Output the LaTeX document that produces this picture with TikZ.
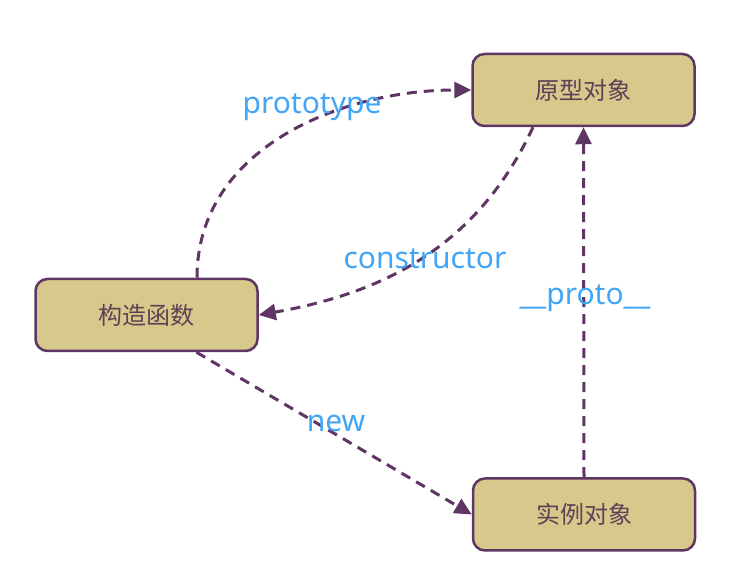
\documentclass[tikz,border=0pt]{standalone}
\usepackage{fontspec}
\setmainfont{Noto Sans}
\newfontfamily\cjk{Noto Sans CJK SC}
\usetikzlibrary{arrows.meta}
\definecolor{boxfill}{HTML}{D6C98B}
\definecolor{boxline}{HTML}{5E3563}
\definecolor{boxtext}{HTML}{5B4257}
\definecolor{lbltext}{HTML}{42A5F5}
\tikzstyle{object} = [
  draw=boxline,
  fill=boxfill,
  line width=2.5pt,
  rounded corners=12pt,
  minimum width=222pt,
  minimum height=72pt,
  text=boxtext,
  font=\cjk\fontsize{24}{28}\selectfont,
]
\tikzstyle{link} = [
  draw=boxline,
  line width=3pt,
  dash pattern=on 10pt off 7pt,
  -{Triangle[length=17pt,width=16pt]},
]
\tikzstyle{linklabel} = [
  text=lbltext,
  font=\fontsize{30}{34}\selectfont,
]

\begin{document}
\begin{tikzpicture}[
    x=1pt,
    y=1pt,
  ]
  \useasboundingbox (0,0) rectangle (737,573);
  \node[object] (protoobj) at (583.5,483) {原型对象};
  \node[object] (ctorfn) at (146.5,258) {构造函数};
  \node[object] (instobj) at (584,58.5) {实例对象};
  \path
    ([xshift=50.5pt]ctorfn.north) edge[link, out=90, in=180] (protoobj.west)
    ([xshift=-50.5pt]protoobj.south) edge[link, out=245, in=10] (ctorfn.east)
    ([xshift=50pt]ctorfn.south) edge[link] (instobj.west)
    (instobj.north) edge[link] (protoobj.south);
  \node[linklabel] (protolbl) at (312,466) {prototype};
  \node[linklabel] (ctorlbl) at (425,314) {constructor};
  \node[linklabel] (dunderlbl) at (585,275) {\_\_proto\_\_};
  \node[linklabel] (newlbl) at (336,150) {new};
\end{tikzpicture}
\end{document}
